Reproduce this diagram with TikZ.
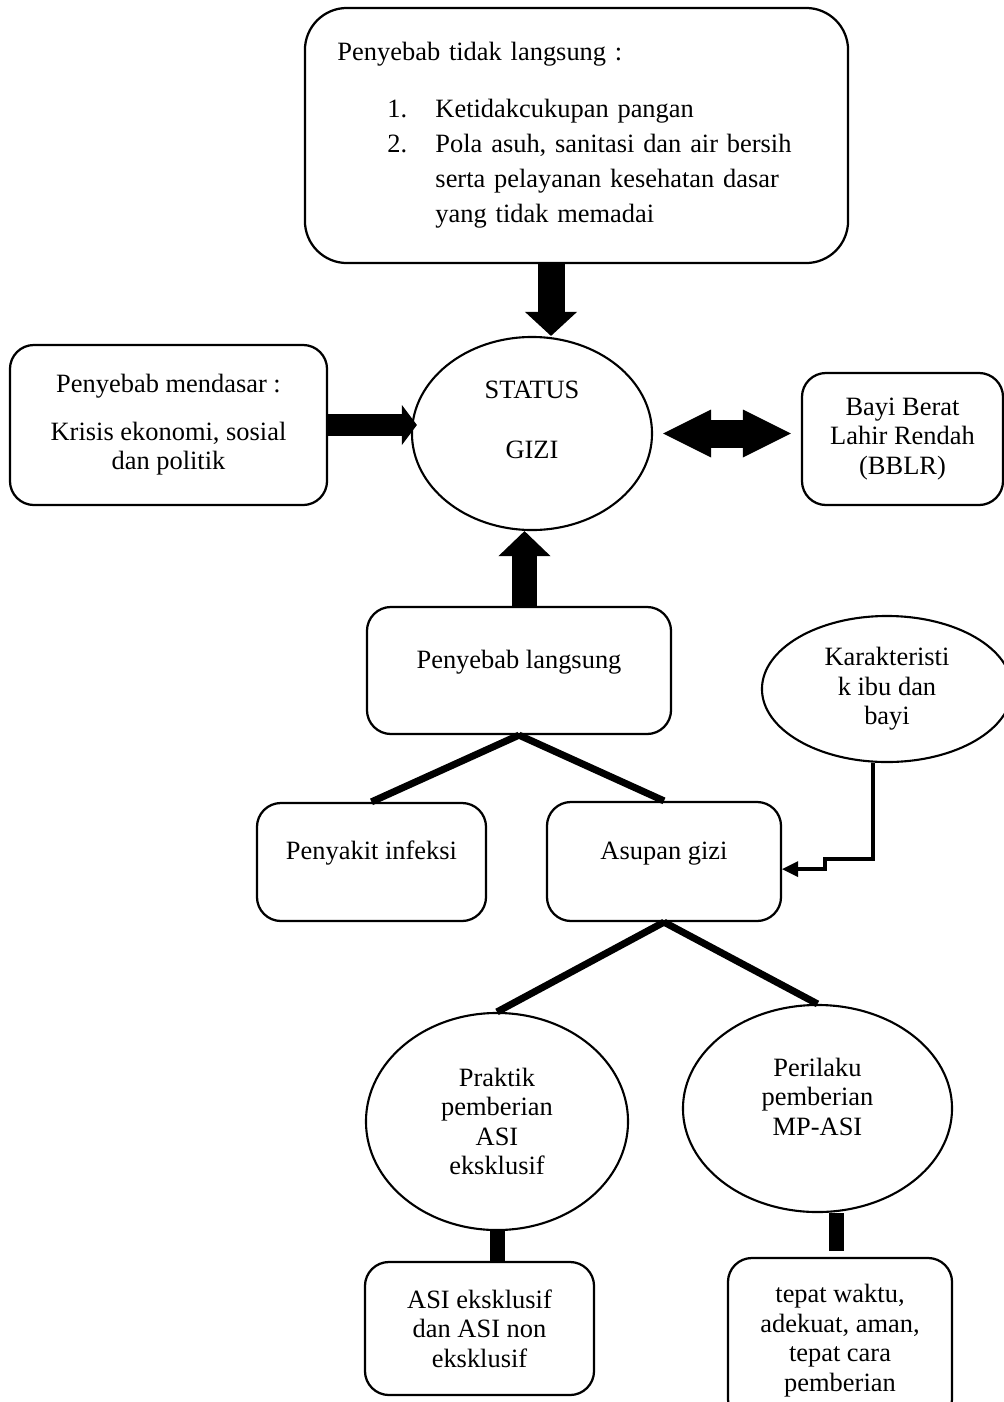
\documentclass[tikz,border=0pt]{standalone}
\usepackage{fontspec}
\setmainfont{Liberation Serif}
\usepackage{tikz}
\usetikzlibrary{arrows.meta}
\usetikzlibrary{calc,shapes.geometric}

\begin{document}
\begin{tikzpicture}[x=0.025cm, y=-0.025cm,
    every node/.style={font={\fontsize{18.8}{21}\selectfont}, align=center, inner sep=0pt},
    kotak/.style={draw, line width=1.6pt, rounded corners=0.6cm},
    bulat/.style={draw, ellipse, line width=1.5pt},
    atas/.style={text height=13pt, text depth=16pt},
    panah/.style={line width=#1},
    cabang/.style={line width=5pt},
    batang/.style={line width=0.375cm},
    kaitan/.style={line width=2.4pt}]

    \useasboundingbox (0,0) rectangle (1004,1402);
    \clip (0,0) rectangle (1004,1402);

    \node[kotak, rounded corners=1.05cm, minimum width=13.575cm, minimum height=6.375cm, text width=11.95cm, align=left, font={\fontsize{18.8}{24.9}\selectfont}] (tidak) at (576.5,135.5) {Penyebab tidak langsung :\\[15.6pt]
        \hspace*{1.25cm}\makebox[1.2cm][l]{1.}Ketidakcukupan pangan\\
        \hspace*{1.25cm}\makebox[1.2cm][l]{2.}Pola asuh, sanitasi dan air bersih\\
        \hspace*{2.45cm}serta pelayanan  kesehatan dasar\\
        \hspace*{2.45cm}yang tidak memadai};

    \node[bulat, minimum width=6cm, minimum height=4.825cm] (status) at (532,433.5) {\begin{tabular}{@{}c@{}}STATUS\\[22pt]GIZI\\[0.55cm]\end{tabular}};
    \node[kotak, minimum width=7.925cm, minimum height=4cm] (mendasar) at (168.5,425) {Penyebab mendasar :\\[12.8pt]Krisis ekonomi, sosial\\dan politik};
    \node[kotak, minimum width=5.025cm, minimum height=3.3cm] (bblr) at (902.5,439) {Bayi Berat\\Lahir Rendah\\(BBLR)};

    \node[kotak, atas, minimum width=7.6cm, minimum height=3.175cm] (langsung) at (519,670.5) {Penyebab langsung};
    \node[bulat, minimum width=6.25cm, minimum height=3.65cm] (kar) at (887,689) {Karakteristi\\k ibu dan\\bayi};
    \node[kotak, atas, minimum width=5.725cm, minimum height=2.95cm] (infeksi) at (371.5,862) {Penyakit infeksi};
    \node[kotak, atas, minimum width=5.85cm, minimum height=2.975cm] (asupan) at (664,861.5) {Asupan gizi};

    \node[bulat, minimum width=6.55cm, minimum height=5.425cm] (praktik) at (497,1121.5) {Praktik\\pemberian\\ASI\\eksklusif};
    \node[bulat, minimum width=6.725cm, minimum height=5.175cm] (perilaku) at (817.5,1108.5) {\begin{tabular}{@{}c@{}}Perilaku\\pemberian\\MP-ASI\\[0.425cm]\end{tabular}};
    \node[kotak, minimum width=5.725cm, minimum height=3.325cm] (asi) at (479.5,1328.5) {ASI eksklusif\\dan ASI non\\eksklusif};
    \node[kotak, minimum width=5.6cm, minimum height=4.125cm] (tepat) at (840,1340.5) {tepat waktu,\\adekuat, aman,\\tepat cara\\pemberian};

    \coordinate (t1) at ($(tidak.south)+(-25.5,0)$);
    \draw[panah=0.675cm, -{Triangle[length=0.6cm, width=1.3cm, line width=0pt]}] (t1) -- (t1 |- status.north);
    \draw[panah=0.55cm, -{Triangle[length=0.375cm, width=1cm, line width=0pt]}, shorten >=-0.15cm] (mendasar.east) -- (mendasar.east -| status.west);
    \draw[panah=0.7cm, {Triangle[length=1.2cm, width=1.2cm, line width=0pt]}-{Triangle[length=1.2cm, width=1.2cm, line width=0pt]}, shorten <=0.25cm, shorten >=0.25cm] (status.east) -- (status.east -| bblr.west);
    \coordinate (u1) at ($(langsung.north)+(5.5,0)$);
    \draw[panah=0.625cm, -{Triangle[length=0.625cm, width=1.3cm, line width=0pt]}] (u1) -- (u1 |- status.south);

    \draw[cabang] (langsung.south) -- (infeksi.north);
    \draw[cabang] (langsung.south) -- (asupan.north);
    \draw[cabang] (asupan.south) -- (praktik.north);
    \draw[cabang] (asupan.south) -- (perilaku.north);

    \coordinate (k1) at ($(kar.south)+(-14,0)$);
    \draw[kaitan, -{Triangle[length=0.4cm, width=0.4cm, line width=0pt]}] (k1) -- ++(0,96) -- ++(-48,0) -- ++(0,10) coordinate (k2) -- (k2 -| asupan.east);

    \draw[batang] (praktik.south) -- (praktik.south |- asi.north);
    \coordinate (p1) at ($(perilaku.south)+(19,0)$);
    \draw[batang, shorten >=0.15cm] (p1) -- (p1 |- tepat.north);

\end{tikzpicture}
\end{document}
